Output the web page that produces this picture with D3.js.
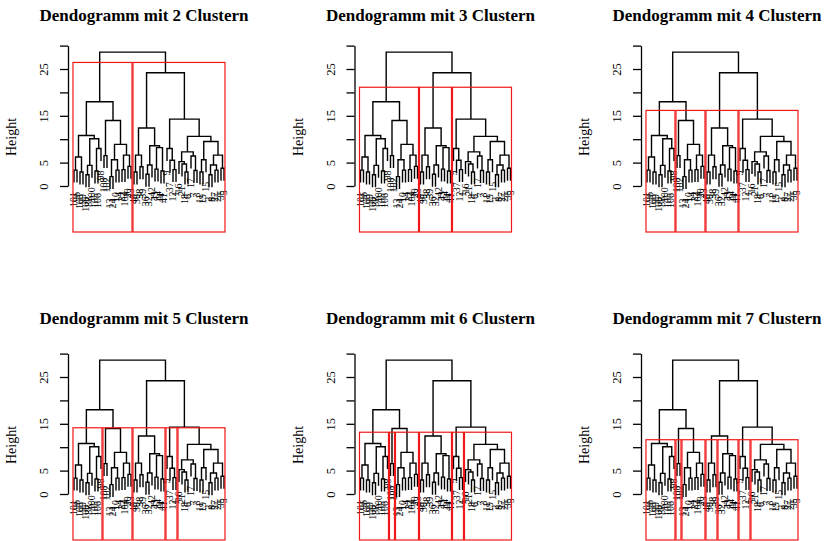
<!DOCTYPE html>
<html><head><meta charset="utf-8">
<script src="https://cdn.jsdelivr.net/npm/d3@7/dist/d3.min.js"></script>
<style>body{margin:0;background:#fff}svg{display:block}</style>
</head><body>
<svg id="c" width="826" height="541"></svg>
<script>
// ---- data ----
const clusterCounts = [2, 3, 4, 5, 6, 7];
const titlePrefix = "Dendogramm mit ";
const titleSuffix = " Clustern";
const yTicks = [0, 5, 10, 15, 20, 25, 30];
const yTickLabels = ["0", "5", "", "15", "", "25", ""];
const yLabel = "Height";
const leafLabels = ["101","96","103","99","109","88","100","105","106","98",
  "108","102","13","24","10","14","22","104","20","23",
  "40","30","38","39","36","32","42","43","34","44","41",
  "9","37","12","1",
  "16","21","18","6","17","7","3","11","19","15","2","8","27","25","35","5"];
// hclust-style merge table: negative = leaf (1-based), positive = earlier merge row (1-based)
const mergeLeft  = [-1,-3, 1,-5, 4,-8, 6, 5, 3,-11,-13,-15,11,-17,-19,14,13,10, 9,-21,-23,20,-25,23,-28,-30,25,24,22,-34,-33,-32,-38,-37,-36,-41,-40,35,-43,39,-46,-48,41,-50,43,40,38,32,29,19];
const mergeRight = [-2,-4, 2,-6,-7,-9,-10, 7, 8,-12,-14,-16,12,-18,-20,15,16,17,18,-22,-24,21,-26,-27,-29,-31,26,27,28,-35,30,31,-39,33,34,-42,36,37,-44,-45,-47,-49,42,-51,44,45,46,47,48,49];
const mergeHeight = [3.4,3.0,6.2,2.4,4.4,3.2,8.0,10.1,10.8,6.5,2.0,3.4,5.6,3.5,4.2,6.6,8.9,14.0,18.0,3.0,4.1,6.6,2.5,4.5,3.6,3.2,8.2,8.6,12.4,3.5,5.5,8.0,3.0,4.7,5.2,3.3,6.4,7.3,3.0,5.6,2.4,3.4,4.5,3.8,6.6,9.5,10.6,14.3,24.2,28.6];

// ---- geometry ----
const colPitch = 286.5, rowPitch = 308;
const nLeaf = leafLabels.length, nMerge = mergeHeight.length;
const root = nMerge;

const order = [];
(function trav(r){ if (r < 0) order.push(-r); else { trav(mergeLeft[r-1]); trav(mergeRight[r-1]); } })(root);
const rank = {}; order.forEach((l, i) => rank[l] = i + 1);
const mx = new Array(nMerge).fill(null);
function nodeX(r){ if (r < 0) return rank[-r]; const m = r - 1; if (mx[m] === null) mx[m] = (nodeX(mergeLeft[m]) + nodeX(mergeRight[m])) / 2; return mx[m]; }
nodeX(root);
const hMax = d3.max(mergeHeight), hMin = d3.min(mergeHeight);
const hang = 0.1 * (hMax - hMin);
const sortedH = mergeHeight.slice().sort((a, b) => b - a);

function clustersAt(cut){
  const out = [];
  (function walk(r){
    if (r > 0 && mergeHeight[r-1] > cut) { walk(mergeLeft[r-1]); walk(mergeRight[r-1]); }
    else {
      let cnt = 0; (function c(q){ if (q < 0) cnt++; else { c(mergeLeft[q-1]); c(mergeRight[q-1]); } })(r);
      out.push(cnt);
    }
  })(root);
  return out;
}

const svg = d3.select("#c");
const serif = "'Liberation Serif','Times New Roman',serif";

clusterCounts.forEach((k, idx) => {
  const col = idx % 3, row = Math.floor(idx / 3);
  const g = svg.append("g").attr("transform", `translate(${col * colPitch},${row * rowPitch})`);
  const x = d3.scaleLinear().domain([-1, nLeaf + 2]).range([68, 230]);
  const y = d3.scaleLinear().domain([0, 30]).range([186, 45.6]);
  const plotBottom = 232;

  // title
  g.append("text").attr("x", 144).attr("y", row === 0 ? 21 : 16).attr("text-anchor", "middle")
    .attr("font-family", serif).attr("font-weight", "bold").attr("font-size", 17)
    .text(titlePrefix + k + titleSuffix);

  // y axis
  const ax = g.append("g").attr("transform", `translate(${x(-1)},0)`)
    .call(d3.axisLeft(y).tickValues(yTicks).tickSize(8).tickSizeOuter(0).tickFormat((d, i) => yTickLabels[i]));
  ax.select(".domain").attr("stroke", "#000").attr("stroke-width", 1.3);
  ax.selectAll(".tick line").attr("stroke", "#000").attr("stroke-width", 1.3);
  ax.selectAll(".tick text").attr("transform", "rotate(-90)").attr("x", 0).attr("y", -20).attr("dy", 0)
    .attr("text-anchor", "middle").attr("font-family", serif).attr("font-size", 12.5).attr("fill", "#000");

  g.append("text").attr("transform", "translate(16,137) rotate(-90)").attr("text-anchor", "middle")
    .attr("font-family", serif).attr("font-size", 14).text(yLabel);

  // dendrogram
  const dg = g.append("g").attr("fill", "none").attr("stroke", "#000").attr("stroke-width", 1.4);
  for (let m = 0; m < nMerge; m++) {
    const h = mergeHeight[m];
    const l = mergeLeft[m], r = mergeRight[m];
    const ly = l < 0 ? h - hang : mergeHeight[l-1];
    const ry = r < 0 ? h - hang : mergeHeight[r-1];
    const p = d3.path();
    p.moveTo(x(nodeX(l)), y(ly)); p.lineTo(x(nodeX(l)), y(h));
    p.lineTo(x(nodeX(r)), y(h)); p.lineTo(x(nodeX(r)), y(ry));
    dg.append("path").attr("d", p.toString());
    [[l, ly], [r, ry]].forEach(([q, qy]) => {
      if (q < 0) {
        g.append("text").attr("transform", `translate(${x(nodeX(q))},${y(qy) + 9.5}) rotate(-90)`)
          .attr("text-anchor", "end").attr("dy", "0.33em")
          .attr("font-family", serif).attr("font-size", 10).text(leafLabels[-q - 1]);
      }
    });
  }

  // cluster rectangles
  const cut = (sortedH[k-2] + sortedH[k-1]) / 2;
  const sizes = clustersAt(cut);
  let m0 = 0;
  sizes.forEach(s => {
    g.append("rect").attr("x", x(m0 + 0.66)).attr("y", y(cut))
      .attr("width", x(m0 + s + 0.33) - x(m0 + 0.66)).attr("height", plotBottom - y(cut))
      .attr("fill", "none").attr("stroke", "#F01818").attr("stroke-width", 1.2);
    m0 += s;
  });
});
</script>
</body></html>
